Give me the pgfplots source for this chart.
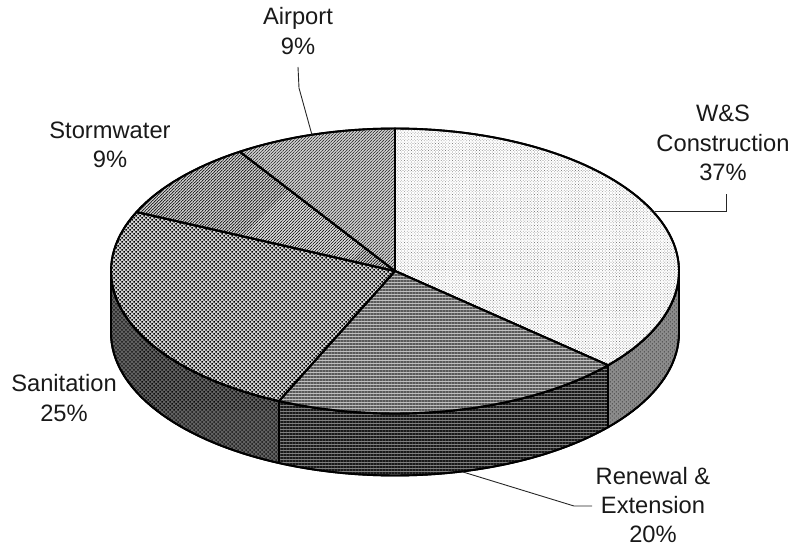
\documentclass[border=0pt]{standalone}
\usepackage{fontspec}
\setmainfont{Liberation Sans}
\usepackage{pgfplots}
\pgfplotsset{compat=1.18}
\usetikzlibrary{patterns.meta}

% Pie geometry in image units; shares in percent, clockwise from the top.
\def\cx{395}\def\cy{271}\def\rx{284}\def\ry{142.5}\def\depth{62}
\def\shareA{36.5}\def\shareB{20.2}\def\shareC{25.1}\def\shareD{9.0}\def\shareE{9.2}

\pgfmathsetmacro\angA{90}
\pgfmathsetmacro\angB{\angA-3.6*\shareA}
\pgfmathsetmacro\angC{\angB-3.6*\shareB}
\pgfmathsetmacro\angD{\angC-3.6*\shareC}
\pgfmathsetmacro\angE{\angD-3.6*\shareD}
\pgfmathsetmacro\angF{\angE-3.6*\shareE}

% Append points along the rim from angle #2 to #3 at height offset #4 to list #1.
\newcommand{\addarc}[4]{%
  \pgfmathtruncatemacro\nsteps{max(2,abs(#3-#2)/2)}%
  \foreach \i in {0,...,\nsteps}{%
    \pgfmathsetmacro\t{#2+(#3-#2)*\i/\nsteps}%
    \pgfmathsetmacro\px{\cx+\rx*cos(\t)}%
    \pgfmathsetmacro\py{\cy-\ry*sin(\t)+#4}%
    \xdef#1{#1 (\px,\py)}%
  }%
}
% Top-face wedge outline.
\newcommand{\pietop}[3]{\xdef#1{(\cx,\cy)}\addarc{#1}{#2}{#3}{0}}
% Side-wall outline: upper rim forward, lower rim back.
\newcommand{\pieside}[3]{\xdef#1{}\addarc{#1}{#2}{#3}{0}\addarc{#1}{#3}{#2}{\depth}}

\pietop{\wedgeA}{\angA}{\angB}
\pietop{\wedgeB}{\angB}{\angC}
\pietop{\wedgeC}{\angC}{\angD}
\pietop{\wedgeD}{\angD}{\angE}
\pietop{\wedgeE}{\angE}{\angF}
\pieside{\wallA}{0}{\angB}
\pieside{\wallB}{\angB}{\angC}
\pieside{\wallC}{\angC}{-180}

\newcommand{\pieshape}[2]{\expandafter\pieshapeimpl\expandafter{#2}{#1}}
\newcommand{\pieshapeimpl}[2]{\addplot[#2] coordinates {#1} -- cycle;}

\tikzset{
  slice/.style={draw=black,line width=1.9pt,line join=round},
  leader/.style={draw=black!85,line width=0.9pt},
  lbl/.style={align=center,font=\fontsize{23.7}{29.2}\selectfont,inner sep=0pt,text=black!90},
}

\begin{document}
\begin{tikzpicture}
\begin{axis}[
  width=800pt,height=548pt,scale only axis,
  xmin=0,xmax=800,ymin=0,ymax=548,y dir=reverse,
  hide axis,clip=false,no markers,
]
% page extent
\path (axis cs:0,0) rectangle (axis cs:800,548);
% side walls
\pieshape{slice,preaction={fill=black!45},pattern color=black!75,pattern={Dots[radius=0.6pt,distance=2.83pt,angle=45]}}{\wallA}
\pieshape{slice,preaction={fill=black!50},pattern color=black!90,pattern={Lines[distance=3pt,angle=0,line width=1.5pt]}}{\wallB}
\pieshape{slice,preaction={fill=black!62},pattern color=black!95,pattern={Dots[radius=0.95pt,distance=2.83pt,angle=45]}}{\wallC}
% top face
\pieshape{slice,preaction={fill=white},pattern color=black!50,pattern={Dots[radius=0.5pt,distance=2pt,angle=45]}}{\wedgeA}
\pieshape{slice,preaction={fill=black!25},pattern color=black!65,pattern={Lines[distance=3pt,angle=0,line width=1.5pt]}}{\wedgeB}
\pieshape{slice,preaction={fill=black!18},pattern color=black,pattern={Dots[radius=1.1pt,distance=2.83pt,angle=45]}}{\wedgeC}
\pieshape{slice,preaction={fill=white},pattern color=black!85,pattern={Lines[distance=2.12pt,angle=45,line width=1.0pt]}}{\wedgeD}
\pieshape{slice,preaction={fill=black!8},pattern color=black!75,pattern={Lines[distance=2.12pt,angle=45,line width=0.85pt]}}{\wedgeE}
% leader lines
\addplot[leader] coordinates {(298,67) (299,88) (312,135)};
\addplot[leader] coordinates {(655,211) (726,211) (726,194)};
\addplot[leader] coordinates {(463,472) (574,506) (592,506)};
% labels
\node[lbl] at (axis cs:298,31) {Airport\\9\%};
\node[lbl] at (axis cs:110,145) {Stormwater\\9\%};
\node[lbl] at (axis cs:723,143) {W\&S\\Construction\\37\%};
\node[lbl] at (axis cs:64,398) {Sanitation\\25\%};
\node[lbl] at (axis cs:653,505) {Renewal \&\\Extension\\20\%};
\end{axis}
\end{tikzpicture}
\end{document}
